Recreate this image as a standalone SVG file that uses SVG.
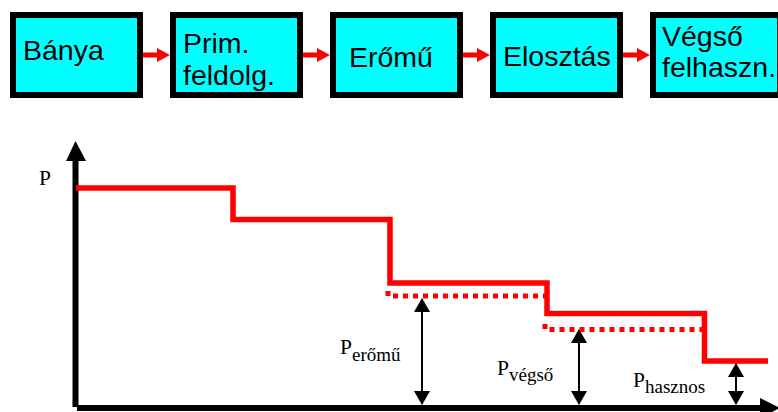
<svg xmlns="http://www.w3.org/2000/svg" xmlns:xlink="http://www.w3.org/1999/xlink" width="778" height="412" viewBox="0 0 778 412">
  <style>
    .box { fill: #00FFFF; stroke: #000000; stroke-width: 6; }
    .box-text { font-family: "Liberation Sans", Arial, sans-serif; font-size: 28.5px; fill: #000000; }
    .flow { fill: #FF0000; }
    .axis { stroke: #000000; stroke-width: 6; fill: none; }
    .axis-head { fill: #000000; }
    .power { stroke: #FF0000; stroke-width: 5.5; fill: none; stroke-linejoin: miter; stroke-linecap: butt; }
    .power-loss { stroke: #FF0000; stroke-width: 5; fill: none; stroke-dasharray: 5 5; }
    .measure { stroke: #000000; stroke-width: 2; fill: none; marker-start: url(#tip); marker-end: url(#tip); }
    .label { font-family: "Liberation Serif", "Times New Roman", serif; font-size: 21.5px; fill: #000000; }
    .sub { font-size: 19px; }
  </style>
  <defs>
    <!-- red block-arrow between process steps -->
    <path id="flow-arrow" d="M0,52.5 H14 V48 L27,55 L14,62 V57.5 H0 Z"/>
    <!-- filled head for dimension arrows -->
    <marker id="tip" viewBox="0 0 14 16" refX="13" refY="8" markerWidth="14" markerHeight="16" markerUnits="userSpaceOnUse" orient="auto-start-reverse">
      <path d="M0,0 L14,8 L0,16 Z" fill="#000000"/>
    </marker>
  </defs>

  <!-- process chain -->
  <g id="banya">
    <rect class="box" x="13" y="15" width="127" height="80"/>
    <text class="box-text" x="23" y="60">Bánya</text>
  </g>
  <g id="prim-feldolg">
    <rect class="box" x="173" y="15" width="127" height="80"/>
    <text class="box-text" x="183" y="53">Prim.</text>
    <text class="box-text" x="183" y="85">feldolg.</text>
  </g>
  <g id="eromu">
    <rect class="box" x="333" y="15" width="127" height="80"/>
    <text class="box-text" x="349" y="67">Erőmű</text>
  </g>
  <g id="elosztas">
    <rect class="box" x="493" y="15" width="127" height="80"/>
    <text class="box-text" x="503" y="66">Elosztás</text>
  </g>
  <g id="vegso-felhaszn">
    <rect class="box" x="653" y="15" width="127" height="80"/>
    <text class="box-text" x="662" y="46">Végső</text>
    <text class="box-text" x="662" y="77">felhaszn.</text>
  </g>

  <g id="connectors">
    <use xlink:href="#flow-arrow" class="flow" x="143"/>
    <use xlink:href="#flow-arrow" class="flow" x="303"/>
    <use xlink:href="#flow-arrow" class="flow" x="463"/>
    <use xlink:href="#flow-arrow" class="flow" x="623"/>
  </g>

  <!-- power chart -->
  <g id="axes">
    <line class="axis" x1="75.5" y1="407" x2="75.5" y2="158"/>
    <polygon class="axis-head" points="66,161 75.5,141 86,161"/>
    <line class="axis" x1="77" y1="408" x2="762" y2="408"/>
    <polygon class="axis-head" points="760,398 780,408 760,418"/>
    <text class="label" x="39" y="185">P</text>
  </g>

  <g id="power-curve">
    <path class="power" d="M76,188 H233 V219.5 H390 V283 H547 V313.5 H704.5 V361 H768"/>
    <path class="power-loss" d="M388,291 V296 H547"/>
    <path class="power-loss" d="M545,324 V329.5 H704"/>
  </g>

  <g id="p-eromu">
    <line class="measure" x1="422" y1="299" x2="422" y2="404"/>
    <text class="label" x="340" y="354">P<tspan class="sub" dy="7">erőmű</tspan></text>
  </g>
  <g id="p-vegso">
    <line class="measure" x1="579" y1="330" x2="579" y2="404"/>
    <text class="label" x="497" y="375">P<tspan class="sub" dy="6">végső</tspan></text>
  </g>
  <g id="p-hasznos">
    <line class="measure" x1="736" y1="364" x2="736" y2="404"/>
    <text class="label" x="633" y="387">P<tspan class="sub" dy="6">hasznos</tspan></text>
  </g>
</svg>
